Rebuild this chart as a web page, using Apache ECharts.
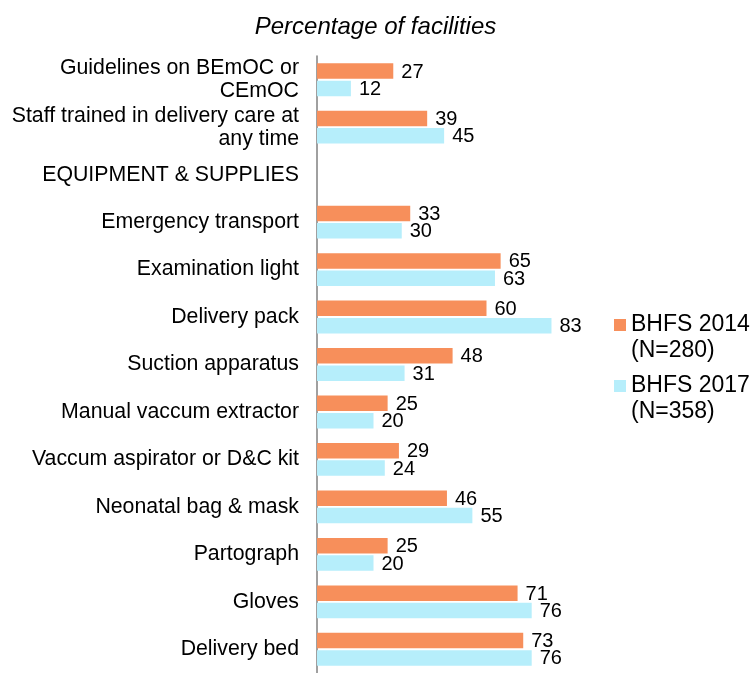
<!DOCTYPE html>
<html>
<head>
<meta charset="utf-8">
<title>Percentage of facilities</title>
<script src="https://cdn.jsdelivr.net/npm/echarts@6/dist/echarts.min.js"></script>
<style>
  html, body { margin: 0; padding: 0; background: #ffffff; }
  #chart { width: 751px; height: 673px; }
</style>
</head>
<body>
<div id="chart"></div>
<script>
// Facility readiness items, listed top to bottom
const categories = [
  'Guidelines on BEmOC or\nCEmOC',
  'Staff trained in delivery care at\nany time',
  'EQUIPMENT & SUPPLIES',
  'Emergency transport',
  'Examination light',
  'Delivery pack',
  'Suction apparatus',
  'Manual vaccum extractor',
  'Vaccum aspirator or D&C kit',
  'Neonatal bag & mask',
  'Partograph',
  'Gloves',
  'Delivery bed'
];

// Percentage of facilities per survey round ('-' marks the section heading row)
const bhfs2014 = [27, 39, '-', 33, 65, 60, 48, 25, 29, 46, 25, 71, 73];
const bhfs2017 = [12, 45, '-', 30, 63, 83, 31, 20, 24, 55, 20, 76, 76];

// Legend entries: survey name and sample size on two lines
const seriesNames = ['BHFS 2014', 'BHFS 2017'];
const sampleSizes = ['(N=280)', '(N=358)'];

const FONT = '"Liberation Sans", Arial, Helvetica, sans-serif';

const chart = echarts.init(document.getElementById('chart'), null, { renderer: 'canvas' });

const valueLabel = {
  show: true,
  position: 'right',
  distance: 8,
  color: '#000000',
  fontFamily: FONT,
  fontSize: 20,
  offset: [0, 1]
};

// An empty first row keeps the swatch level with the survey name
const legendText = {
  color: '#000000',
  fontFamily: FONT,
  fontSize: 23,
  lineHeight: 26,
  rich: {
    pad: { fontSize: 23, lineHeight: 26 },
    t: { fontFamily: FONT, fontSize: 23, lineHeight: 26, color: '#000000' }
  }
};

function legendFormatter(name) {
  const i = seriesNames.indexOf(name);
  return '{pad| }\n{t|' + name + '}\n{t|' + sampleSizes[i] + '}';
}

function legendFor(i, top) {
  return {
    data: [seriesNames[i]],
    orient: 'vertical',
    left: 609,
    top: top,
    itemWidth: 12,
    itemHeight: 12,
    icon: 'rect',
    selectedMode: false,
    formatter: legendFormatter,
    textStyle: legendText
  };
}

chart.setOption({
  animation: false,
  backgroundColor: '#ffffff',
  title: {
    text: 'Percentage of facilities',
    left: 'center',
    top: 10,
    textStyle: {
      fontFamily: FONT,
      fontStyle: 'italic',
      fontWeight: 'normal',
      fontSize: 24,
      color: '#000000'
    }
  },
  legend: [legendFor(0, 281), legendFor(1, 342)],
  grid: {
    left: 317,
    top: 56,
    width: 282.5,
    height: 623.5,
    containLabel: false
  },
  xAxis: {
    type: 'value',
    min: 0,
    max: 100,
    show: false,
    splitLine: { show: false }
  },
  yAxis: {
    type: 'category',
    data: categories,
    inverse: true,
    axisLine: { show: true, lineStyle: { color: '#808080', width: 1.5 } },
    axisTick: { show: false },
    axisLabel: {
      interval: 0,
      showMinLabel: true,
      showMaxLabel: true,
      hideOverlap: false,
      margin: 18,
      color: '#000000',
      fontFamily: FONT,
      fontSize: 21.3,
      lineHeight: 23,
      align: 'right',
      padding: [4, 0, 0, 0]
    }
  },
  series: [
    {
      name: seriesNames[0],
      type: 'bar',
      data: bhfs2014,
      barWidth: 15.5,
      barGap: '12%',
      itemStyle: { color: '#F78F5B' },
      label: valueLabel
    },
    {
      name: seriesNames[1],
      type: 'bar',
      data: bhfs2017,
      barWidth: 15.5,
      barGap: '12%',
      itemStyle: { color: '#B6EEFB' },
      label: valueLabel
    }
  ]
});
</script>
</body>
</html>
